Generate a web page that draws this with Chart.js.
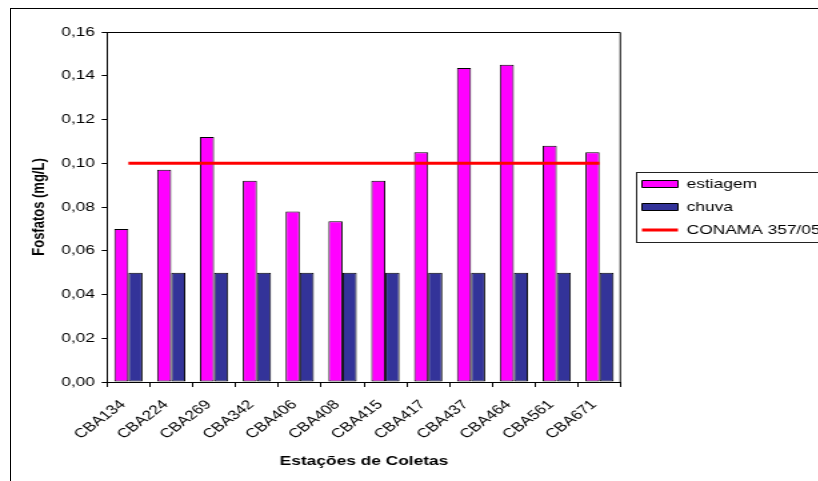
<!DOCTYPE html>
<html>
<head>
<meta charset="utf-8">
<script src="https://cdn.jsdelivr.net/npm/chart.js@4.4.1/dist/chart.umd.min.js"></script>
<style>
  html, body { margin: 0; padding: 0; background: #fff; overflow: hidden; width: 818px; height: 481px; }
  /* the chart is laid out narrow and widened horizontally, text included */
  #wrap { position: absolute; left: 0; top: 0; width: 614px; height: 481px; transform: scaleX(1.33333); transform-origin: 0 0; }
  #frame { position: absolute; left: 10px; top: 8px; width: 900px; height: 600px; border: 1px solid #000; pointer-events: none; }
</style>
</head>
<body>
<div id="wrap"><canvas id="c" width="614" height="481"></canvas></div>
<div id="frame"></div>
<script>
const estacoes = ['CBA134', 'CBA224', 'CBA269', 'CBA342', 'CBA406', 'CBA408',
                  'CBA415', 'CBA417', 'CBA437', 'CBA464', 'CBA561', 'CBA671'];
const estiagem = [0.070, 0.097, 0.112, 0.092, 0.078, 0.0735, 0.092, 0.105, 0.1435, 0.145, 0.108, 0.105];
const chuva    = [0.05, 0.05, 0.05, 0.05, 0.05, 0.05, 0.05, 0.05, 0.05, 0.05, 0.05, 0.05];
const conama   = [0.10, 0.10, 0.10, 0.10, 0.10, 0.10, 0.10, 0.10, 0.10, 0.10, 0.10, 0.10];
const yTickLabels = ['0,00', '0,02', '0,04', '0,06', '0,08', '0,10', '0,12', '0,14', '0,16'];

const LEGEND_W = 148.25;
const LEGEND_SHIFT = 5.75;

Chart.defaults.font.family = "'Liberation Sans', Arial, sans-serif";
Chart.defaults.font.size = 13;
Chart.defaults.color = '#000';

// fixed legend width, plot border on top/right, and a frame round the legend
const frames = {
  id: 'frames',
  beforeLayout(chart) {
    const lg = chart.legend;
    if (lg && !lg._fixedWidth) {
      const fit = lg.fit.bind(lg);
      lg.fit = function () { fit(); this.width = LEGEND_W; };
      lg._fixedWidth = true;
    }
  },
  afterLayout(chart) {
    const lg = chart.legend;
    lg.left += LEGEND_SHIFT;
    lg.right += LEGEND_SHIFT;
  },
  afterDraw(chart) {
    const { ctx, chartArea: a, legend: lg } = chart;
    ctx.save();
    ctx.strokeStyle = '#000';
    ctx.lineWidth = 1;
    ctx.beginPath();
    ctx.moveTo(a.left, a.top + 0.5);
    ctx.lineTo(a.right - 0.5, a.top + 0.5);
    ctx.lineTo(a.right - 0.5, a.bottom);
    ctx.stroke();
    const hb = lg.legendHitBoxes;
    if (hb && hb.length) {
      const top = hb[0].top - 5.5;
      const bottom = hb[hb.length - 1].top + hb[hb.length - 1].height + 5.5;
      const left = lg.left + lg.options.labels.padding - 4.5;
      ctx.strokeStyle = '#222';
      ctx.strokeRect(Math.round(left) + 0.5, Math.round(top) + 0.5, 400, Math.round(bottom - top));
    }
    ctx.restore();
  }
};

new Chart(document.getElementById('c'), {
  type: 'bar',
  data: {
    labels: estacoes,
    datasets: [
      {
        label: 'estiagem',
        data: estiagem,
        backgroundColor: '#FF00FF',
        borderColor: '#000',
        borderWidth: 1,
        borderSkipped: false,
        pointStyle: 'rect',
        order: 1
      },
      {
        label: 'chuva',
        data: chuva,
        backgroundColor: '#333399',
        borderColor: '#000',
        borderWidth: 1,
        borderSkipped: false,
        pointStyle: 'rect',
        order: 1
      },
      {
        type: 'line',
        label: 'CONAMA 357/05',
        data: conama,
        borderColor: '#FF0000',
        backgroundColor: '#FF0000',
        borderWidth: 3,
        pointRadius: 0,
        pointHoverRadius: 0,
        pointStyle: 'line',
        order: 0
      }
    ]
  },
  options: {
    responsive: false,
    animation: false,
    events: [],
    datasets: { bar: { categoryPercentage: 0.66, barPercentage: 1 } },
    layout: { padding: { left: 0, top: 32, right: 0, bottom: 0 } },
    plugins: {
      tooltip: { enabled: false },
      legend: {
        position: 'right',
        fullSize: false,
        labels: {
          usePointStyle: true,
          pointStyleWidth: 27,
          boxHeight: 7,
          padding: 10,
          color: '#000',
          font: { size: 13 },
          sort: (a, b) => a.datasetIndex - b.datasetIndex
        }
      }
    },
    scales: {
      x: {
        offset: true,
        grid: { display: true, drawOnChartArea: false, drawTicks: true, tickLength: 5, color: '#000', offset: true },
        border: { display: true, color: '#000', width: 1 },
        ticks: { autoSkip: false, minRotation: 45, maxRotation: 45, padding: 10, labelOffset: -4, color: '#000', font: { size: 13 } },
        title: { display: true, text: 'Estações de Coletas', color: '#000', font: { size: 13, weight: 'bold' }, padding: { top: 0, bottom: 11.5 } },
        afterFit(s) { s.height = 99; }
      },
      y: {
        min: 0,
        max: 0.16,
        ticks: {
          stepSize: 0.02,
          padding: 5,
          color: '#000',
          font: { size: 13 },
          callback: (v, i) => yTickLabels[i]
        },
        grid: { display: true, drawOnChartArea: false, drawTicks: true, tickLength: 4, color: '#000' },
        border: { display: true, color: '#000', width: 1 },
        title: { display: true, text: 'Fosfatos (mg/L)', color: '#000', font: { size: 13, weight: 'bold' }, padding: { top: 22, bottom: 0 } },
        afterFit(s) { s.width = 80.25; }
      }
    }
  },
  plugins: [frames]
});
</script>
</body>
</html>
